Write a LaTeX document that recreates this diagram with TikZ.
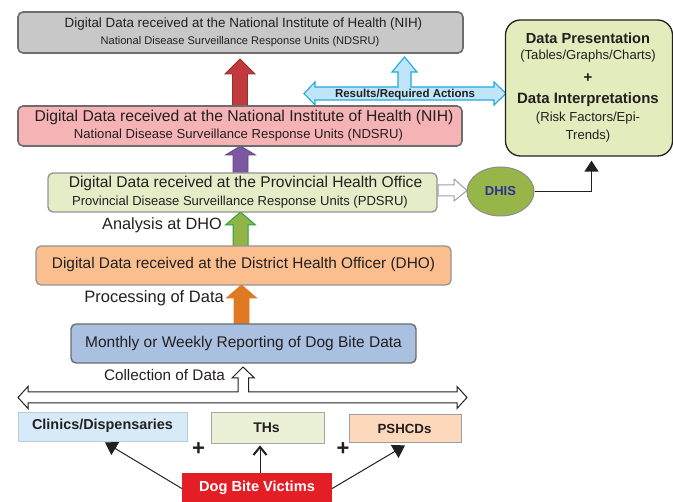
\documentclass[tikz,border=0pt]{standalone}
\usepackage{fontspec}
\setmainfont{Liberation Sans}
\usetikzlibrary{arrows.meta,calc,shapes.geometric}
\definecolor{txtc}{HTML}{231F20}
\definecolor{cgray}{HTML}{C8C8C8}
\definecolor{bgray}{HTML}{6D6D6D}
\definecolor{cpink}{HTML}{F6B3B5}
\definecolor{cgreenl}{HTML}{E5EDC8}
\definecolor{corange}{HTML}{FBBF8F}
\definecolor{cblue}{HTML}{AAC0E1}
\definecolor{cright}{HTML}{E3ECBD}
\definecolor{cdhis}{HTML}{98B54A}
\definecolor{cdhistxt}{HTML}{2E3192}
\definecolor{aRed}{HTML}{C0393B}
\definecolor{aPur}{HTML}{7C58A2}
\definecolor{aGrn}{HTML}{92B347}
\definecolor{aGrnB}{HTML}{1FA83A}
\definecolor{aOra}{HTML}{E07A22}
\definecolor{aBlu}{HTML}{BFE6F8}
\definecolor{aBluB}{HTML}{22A8E1}
\definecolor{cclin}{HTML}{D6EBF7}
\definecolor{cths}{HTML}{EBF1D6}
\definecolor{cpsh}{HTML}{FCD8BD}
\definecolor{cdbv}{HTML}{E31E25}
\newcommand\blkup[5]{%
  \draw[#1] ({#2-7.5},#3) -- ({#2-7.5},#5) -- ({#2-15},#5) -- (#2,#4) -- ({#2+15},#5) -- ({#2+7.5},#5) -- ({#2+7.5},#3) -- cycle;}
\tikzset{
  mbox/.style={rounded corners=5pt, line width=1.6pt, draw=bgray, inner sep=0pt},
  txt/.style={text=txtc, inner sep=0pt},
  fs/.style={font=\fontsize{#1}{#1}\selectfont},
  fsb/.style={font=\fontsize{#1}{#1}\selectfont\bfseries},
  sbox/.style={line width=0.8pt, inner sep=0pt},
  thinarr/.style={line width=1pt, draw=txtc},
}
\begin{document}
\begin{tikzpicture}[x=1pt,y=-1pt]
\useasboundingbox (0,0) rectangle (673,502);
% block arrows
\blkup{fill=aRed, draw=aRed!80!black, line width=0.8pt}{240}{106}{59}{74}
\blkup{fill=aPur, draw=aPur!80!black, line width=0.8pt}{240.5}{174}{146}{155}
\blkup{fill=aGrn, draw=aGrnB, line width=1pt}{240.5}{247}{212}{225}
\blkup{fill=aOra, draw=aOra, line width=0.8pt}{241.5}{325}{285}{298}
% blue results arrow
\draw[fill=aBlu, draw=aBluB, line width=1.1pt, line join=miter]
  (304,93.5) -- (315,82) -- (315,87) -- (398,87) -- (398,72) -- (392,72) -- (404.5,57) -- (417,72) -- (411,72) -- (411,87)
  -- (494,87) -- (494,82) -- (506,93.5) -- (494,105) -- (494,100) -- (315,100) -- (315,105) -- cycle;
\node[txt, fsb=11.5] (res) at (405,94.5) {Results/Required Actions};
% boxes
\node[mbox, fill=cgray, minimum width=445pt, minimum height=41pt] (b1) at (240.5,32.5) {};
\node[txt, fs=13.4] (b1a) at (243.5,24) {Digital Data received at the National Institute of Health (NIH)};
\node[txt, fs=11.1] (b1b) at (240,41.5) {National Disease Surveillance Response Units (NDSRU)};
\node[mbox, fill=cpink, minimum width=444pt, minimum height=40pt] (b2) at (240,126) {};
\node[txt, fs=15.7] (b2a) at (244,117) {Digital Data received at the National Institute of Health (NIH)};
\node[txt, fs=13.1] (b2b) at (238.5,135.5) {National Disease Surveillance Response Units (NDSRU)};
\node[mbox, draw=gray!85, line width=1.3pt, fill=cgreenl, minimum width=389pt, minimum height=39pt] (b3) at (242.5,192.5) {};
\node[txt, fs=15.6] (b3a) at (245.5,183) {Digital Data received at the Provincial Health Office};
\node[txt, fs=13.05] (b3b) at (240,202.5) {Provincial Disease Surveillance Response Units (PDSRU)};
\node[mbox, draw=gray!85, line width=1.3pt, fill=corange, minimum width=415pt, minimum height=39pt] (b4) at (243.5,265.5) {};
\node[txt, fs=15.4] (b4a) at (243.5,265) {Digital Data received at the District Health Officer (DHO)};
\node[mbox, fill=cblue, line width=1.4pt, minimum width=345pt, minimum height=39pt] (b5) at (243.5,343.5) {};
\node[txt, fs=15.5] (b5a) at (243.5,343.5) {Monthly or Weekly Reporting of Dog Bite Data};
% side labels
\node[txt, fs=16.3, anchor=east] (lan) at (222,225.5) {Analysis at DHO};
\node[txt, fs=16.5, anchor=east] (lpr) at (224,298.5) {Processing of Data};
\node[txt, fs=15.3, anchor=east] (lco) at (225,375.5) {Collection of Data};
% right box
\node[draw=txtc, line width=1.3pt, rounded corners=15pt, fill=cright, minimum width=167pt, minimum height=136pt, inner sep=0pt] (rb) at (589,88) {};
\node[txt, fsb=14.6] (r1) at (588,38.5) {Data Presentation};
\node[txt, fs=13.1] (r2) at (588,56.5) {(Tables/Graphs/Charts)};
\node[txt, fsb=15] (r3) at (588,78) {+};
\node[txt, fsb=15] (r4) at (588,99.5) {Data Interpretations};
\node[txt, fs=13.1] (r5) at (588,118.5) {(Risk Factors/Epi-};
\node[txt, fs=13.1] (r6) at (588,136.5) {Trends)};
% DHIS
\draw[fill=white, draw=gray!75, line width=1pt, line join=miter]
  (438,185) -- (454,185) -- (454,179) -- (467,190.5) -- (454,201) -- (454,196) -- (438,196) -- cycle;
\node[ellipse, draw=gray!90, line width=1pt, fill=cdhis, minimum width=67pt, minimum height=49pt, inner sep=0pt,
  text=cdhistxt, fsb=13] (dhis) at (500.5,191.5) {DHIS};
\draw[line width=1.3pt, draw=txtc, -{Triangle[width=14pt,length=11pt]}] (dhis.east) -| ([xshift=2.5pt,yshift=-4pt]rb.south);
% T-shaped hollow arrow
\draw[fill=white, draw=txtc, line width=1pt, line join=miter]
  (18,397.5) -- (28,386.5) -- (28,392) -- (238,392) -- (238,378) -- (232,378) -- (243,367) -- (254.5,378) -- (248.5,378) -- (248.5,392)
  -- (457,392) -- (457,386.5) -- (467,397.5) -- (457,408.5) -- (457,403) -- (28,403) -- (28,408.5) -- cycle;
% bottom boxes
\node[sbox, draw=cclin!70!gray, fill=cclin, minimum width=169pt, minimum height=29pt] (clin) at (102.5,426.5) {};
\node[txt, fsb=14.4] (clint) at (102.5,425.5) {Clinics/Dispensaries};
\node[sbox, draw=gray!70, fill=cths, minimum width=113pt, minimum height=31pt] (ths) at (267.5,427.5) {};
\node[txt, fsb=14] (thst) at (266.5,428) {THs};
\node[sbox, draw=gray!75, fill=cpsh, minimum width=112pt, minimum height=28pt] (psh) at (405,428) {};
\node[txt, fsb=13.3] (psht) at (404.5,428.5) {PSHCDs};
\node[txt, fsb=22] (p1) at (198.5,449.5) {+};
\node[txt, fsb=22] (p2) at (343,449.5) {+};
\node[fill=cdbv, minimum width=150pt, minimum height=31pt, inner sep=0pt, text=white, fsb=14.6] (dbv) at (257,488.5) {};
\node[inner sep=0pt, text=white, fsb=14.6] (dbvt) at (257,487.5) {Dog Bite Victims};
\draw[thinarr, -{Triangle[width=15pt,length=12pt]}] (dbv.west) -- ([xshift=2.5pt,yshift=-1pt]clin.south);
\draw[thinarr, -{Straight Barb[width=13pt,length=8pt,line width=2pt]}] ([xshift=3pt]dbv.north) -- ([xshift=-7.5pt,yshift=-2pt]ths.south);
\draw[thinarr, -{Triangle[width=15pt,length=12pt]}] (dbv.east) -- ([yshift=-3pt]psh.south);
\end{tikzpicture}
\end{document}
